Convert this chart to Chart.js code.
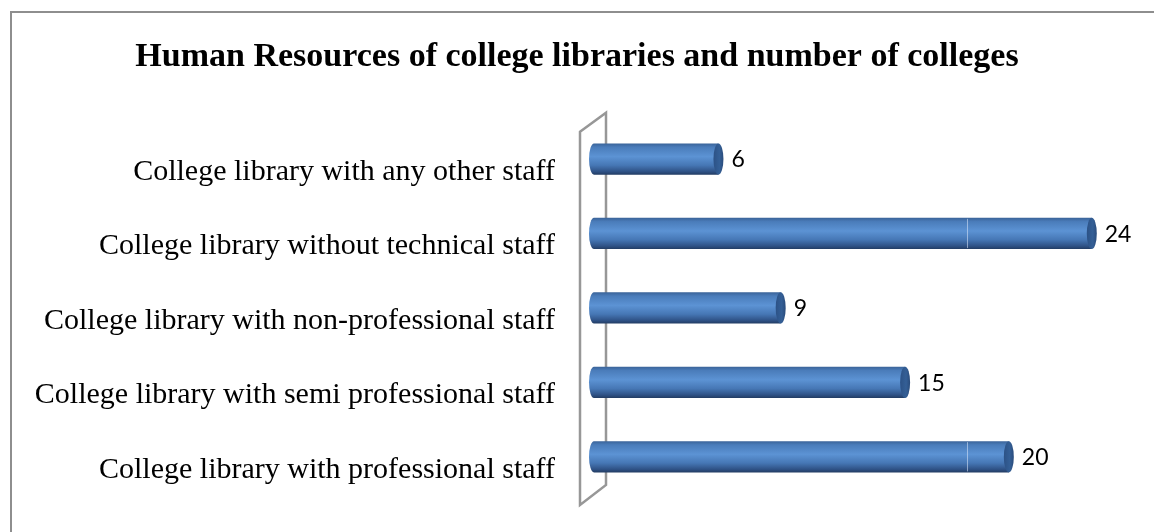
<!DOCTYPE html>
<html>
<head>
<meta charset="utf-8">
<title>Human Resources of college libraries</title>
<script src="https://cdn.jsdelivr.net/npm/chart.js@4.4.1/dist/chart.umd.min.js"></script>
<style>
  html, body { margin: 0; padding: 0; background: #fff; }
  #wrap { width: 1154px; height: 532px; }
</style>
</head>
<body>
<div id="wrap"><canvas id="chartStaff" width="1154" height="532"></canvas></div>
<script>
(function() {
  'use strict';

  // categories, top to bottom
  const categories = [
    'College library with any other staff',
    'College library without technical staff',
    'College library with non-professional staff',
    'College library with semi professional staff',
    'College library with professional staff'
  ];
  const colleges = [6, 24, 9, 15, 20];
  const axisMax = 27;
  const gridValue = 18;

  // page frame
  const framePlugin = {
    id: 'frame',
    beforeDraw(chart) {
      const ctx = chart.ctx;
      ctx.save();
      ctx.fillStyle = '#ffffff';
      ctx.fillRect(0, 0, chart.width, chart.height);
      ctx.strokeStyle = '#8e8e8e';
      ctx.lineWidth = 2;
      ctx.strokeRect(11, 12, chart.width + 20, chart.height + 20);
      ctx.restore();
    }
  };

  // slanted back wall of the 3d plot
  const wallPlugin = {
    id: 'wall',
    beforeDatasetsDraw(chart) {
      const a = chart.chartArea;
      const ctx = chart.ctx;
      ctx.save();
      ctx.strokeStyle = '#979797';
      ctx.lineWidth = 2.5;
      ctx.beginPath();
      ctx.moveTo(a.left - 14, a.top + 10);
      ctx.lineTo(a.left + 12, a.top - 9);
      ctx.lineTo(a.left + 12, a.bottom - 9);
      ctx.lineTo(a.left - 14, a.bottom + 11);
      ctx.closePath();
      ctx.stroke();
      ctx.restore();
    }
  };

  // cylinder bars + value labels
  const cylinderPlugin = {
    id: 'cylinders',
    afterDatasetsDraw(chart) {
      const ctx = chart.ctx;
      const meta = chart.getDatasetMeta(0);
      const xs = chart.scales.x;
      const rx = 5;
      ctx.save();
      meta.data.forEach((bar, i) => {
        const h = bar.height;
        const top = bar.y - h / 2;
        const bottom = bar.y + h / 2;
        const x0 = bar.base;
        const x1 = bar.x;

        const g = ctx.createLinearGradient(0, top, 0, bottom);
        g.addColorStop(0, '#3a6398');
        g.addColorStop(0.12, '#4a7cba');
        g.addColorStop(0.42, '#5c93d4');
        g.addColorStop(0.7, '#4677b5');
        g.addColorStop(0.9, '#2f5286');
        g.addColorStop(1, '#223c63');

        ctx.beginPath();
        ctx.moveTo(x0, top);
        ctx.lineTo(x1, top);
        ctx.lineTo(x1, bottom);
        ctx.lineTo(x0, bottom);
        ctx.ellipse(x0, bar.y, rx, h / 2, 0, Math.PI / 2, Math.PI * 1.5);
        ctx.closePath();
        ctx.fillStyle = g;
        ctx.fill();

        // faint gridline showing through long bars
        if (colleges[i] > gridValue) {
          const gx = Math.round(xs.getPixelForValue(gridValue)) + 0.5;
          ctx.strokeStyle = 'rgba(220,232,250,0.55)';
          ctx.lineWidth = 1;
          ctx.beginPath();
          ctx.moveTo(gx, top + 1);
          ctx.lineTo(gx, bottom - 1);
          ctx.stroke();
        }

        // end cap
        const cg = ctx.createLinearGradient(x1 - rx, 0, x1 + rx, 0);
        cg.addColorStop(0, '#2c5286');
        cg.addColorStop(0.6, '#345f96');
        cg.addColorStop(1, '#2a4c7c');
        ctx.beginPath();
        ctx.ellipse(x1, bar.y, rx, h / 2, 0, 0, Math.PI * 2);
        ctx.fillStyle = cg;
        ctx.fill();

        ctx.fillStyle = '#000000';
        ctx.font = '23px Lato, "Liberation Sans", sans-serif';
        ctx.textAlign = 'left';
        ctx.textBaseline = 'middle';
        ctx.fillText(String(colleges[i]), x1 + rx + 8, bar.y + 1);
      });
      ctx.restore();
    }
  };

  new Chart(document.getElementById('chartStaff'), {
    type: 'bar',
    data: {
      labels: categories,
      datasets: [{
        data: colleges,
        backgroundColor: 'rgba(0,0,0,0)',
        borderWidth: 0,
        categoryPercentage: 1,
        barPercentage: 0.42
      }]
    },
    options: {
      indexAxis: 'y',
      responsive: false,
      animation: false,
      layout: {
        padding: { left: 0, top: 0, right: 0, bottom: 38 }
      },
      plugins: {
        legend: { display: false },
        tooltip: { enabled: false },
        title: {
          display: true,
          text: 'Human Resources of college libraries and number of colleges',
          color: '#000000',
          font: { family: '"Liberation Serif", "Times New Roman", serif', size: 34, weight: 'bold' },
          padding: { top: 37, bottom: 44 }
        }
      },
      scales: {
        x: {
          display: false,
          min: 0,
          max: axisMax
        },
        y: {
          grid: { display: false, drawTicks: false },
          border: { display: false },
          ticks: {
            color: '#000000',
            padding: 39,
            labelOffset: 13,
            font: { family: '"Liberation Serif", "Times New Roman", serif', size: 30 }
          },
          afterFit(scale) {
            scale.width = 594;
            // tick padding shouldn't push the plot area up from the bottom
            scale.paddingTop = 0;
            scale.paddingBottom = 0;
          }
        }
      }
    },
    plugins: [framePlugin, wallPlugin, cylinderPlugin]
  });
})();
</script>
</body>
</html>
